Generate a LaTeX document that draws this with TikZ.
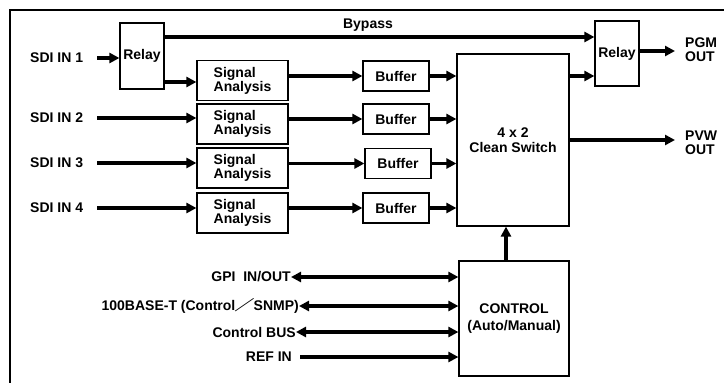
\documentclass[tikz,border=0pt]{standalone}
\usepackage{fontspec}
\setmainfont{Liberation Sans}
\newfontfamily\cjk{Noto Sans CJK JP}
\usepackage{graphicx}
\usepackage{tikz}
\usetikzlibrary{arrows.meta}

\begin{document}
\begin{tikzpicture}[x=1pt, y=-1pt,
                    blk/.style={draw, line width=1.2pt, inner sep=1pt, font=\bfseries\fontsize{14}{14.5}\selectfont},
                    txt/.style={inner sep=0pt, font=\bfseries\fontsize{14}{14}\selectfont},
                    wire/.style={line width=3.5pt, -{Triangle[length=10pt,width=10pt]}},
                    both/.style={line width=3.5pt, {Triangle[length=10pt,width=10pt]}-{Triangle[length=10pt,width=10pt]}}]
                    \useasboundingbox (0,0) rectangle (724,383);
                    \draw[line width=2pt] (10,383) -- (10,10) -- (724,10);
                    \node[blk, minimum width=44pt, minimum height=66pt] (relayA) at (142, 56) {Relay};
                    \node[blk, minimum width=44pt, minimum height=65pt] (relayB) at (617, 53.5) {Relay};
                    \node[blk, minimum width=112pt, minimum height=172pt, align=center] (sw) at (513, 140) {4 x 2\\Clean Switch};
                    \node[blk, minimum width=110pt, minimum height=115pt, align=center, font=\bfseries\fontsize{14}{17}\selectfont] (ctrl) at (514, 318.5) {CONTROL\\(Auto/Manual)};
                    \node[blk, minimum width=91pt, minimum height=40pt, align=left, font=\bfseries\fontsize{14}{12}\selectfont] (sa1) at (242.5, 80.5) {Signal\\Analysis};
                    \node[blk, minimum width=91pt, minimum height=40pt, align=left, font=\bfseries\fontsize{14}{12}\selectfont] (sa2) at (242.5, 124) {Signal\\Analysis};
                    \node[blk, minimum width=91pt, minimum height=40pt, align=left, font=\bfseries\fontsize{14}{12}\selectfont] (sa3) at (242.5, 168) {Signal\\Analysis};
                    \node[blk, minimum width=91pt, minimum height=40pt, align=left, font=\bfseries\fontsize{14}{12}\selectfont] (sa4) at (242.5, 213) {Signal\\Analysis};
                    \node[blk, minimum width=66pt, minimum height=30pt] (buf1) at (396, 76) {Buffer};
                    \node[blk, minimum width=66pt, minimum height=30pt] (buf2) at (396, 119) {Buffer};
                    \node[blk, minimum width=66pt, minimum height=30pt] (buf3) at (398, 163.5) {Buffer};
                    \node[blk, minimum width=66pt, minimum height=30pt] (buf4) at (396, 208) {Buffer};
                    \node[txt, anchor=west] (in1) at (30, 58) {SDI IN 1};
                    \node[txt, anchor=west] (in2) at (30, 118) {SDI IN 2};
                    \node[txt, anchor=west] (in3) at (30, 163) {SDI IN 3};
                    \node[txt, anchor=west] (in4) at (30, 208) {SDI IN 4};
                    \node[txt, anchor=west, align=left] (pgm) at (685, 50) {PGM\\OUT};
                    \node[txt, anchor=west, align=left] (pvw) at (685, 142.5) {PVW\\OUT};
                    \node[txt] (byl) at (368, 25) {Bypass};
                    \node[txt, anchor=east] (gpi) at (291, 277) {GPI\ \ IN/OUT};
                    \node[txt, anchor=east] (lan) at (299, 306) {100BASE-T (Control\kern-1pt\scalebox{1.45}[1]{\cjk ／}\kern-1pt SNMP)};
                    \node[txt, anchor=east] (bus) at (296, 332) {Control BUS};
                    \node[txt, anchor=east] (ref) at (292, 357) {REF IN};
                    \coordinate (byp) at (380, 37);
                    \draw[wire, shorten <=14pt] (in1.east) -- (in1 -| relayA.west);
                    \draw[wire, shorten <=14pt] (in2.east) -- (in2 -| sa2.west);
                    \draw[wire, shorten <=14pt] (in3.east) -- (in3 -| sa3.west);
                    \draw[wire, shorten <=14pt] (in4.east) -- (in4 -| sa4.west);
                    \draw[wire] (relayA.east |- byp) -- (relayB.west |- byp);
                    \draw[wire] ([yshift=-1.5pt]relayA.east |- sa1) -- ([yshift=-1.5pt]sa1.west);
                    \draw[wire] (sa1.east |- buf1) -- (buf1.west);
                    \draw[wire] (sa2.east |- buf2) -- (buf2.west);
                    \draw[wire] (sa3.east |- buf3) -- (buf3.west);
                    \draw[wire] (sa4.east |- buf4) -- (buf4.west);
                    \draw[wire] (buf1.east) -- (buf1 -| sw.west);
                    \draw[wire] (buf2.east) -- (buf2 -| sw.west);
                    \draw[wire] (buf3.east) -- (buf3 -| sw.west);
                    \draw[wire] (buf4.east) -- (buf4 -| sw.west);
                    \draw[wire] (sw.east |- buf1) -- (relayB.west |- buf1);
                    \draw[wire, shorten >=10pt] ([yshift=-1pt]relayB.east |- pgm) -- ([yshift=-1pt]pgm.west);
                    \draw[wire, shorten >=10pt] (sw.east) -- (sw -| pvw.west);
                    \draw[wire] ([xshift=-8pt]ctrl.north) -- ([xshift=-8pt]ctrl.north |- sw.south);
                    \draw[both] (gpi.east) -- (gpi -| ctrl.west);
                    \draw[both] (lan.east) -- (lan -| ctrl.west);
                    \draw[both] (bus.east) -- (bus -| ctrl.west);
                    \draw[wire, shorten <=8pt] (ref.east) -- (ref -| ctrl.west);
                \end{tikzpicture}
\end{document}
